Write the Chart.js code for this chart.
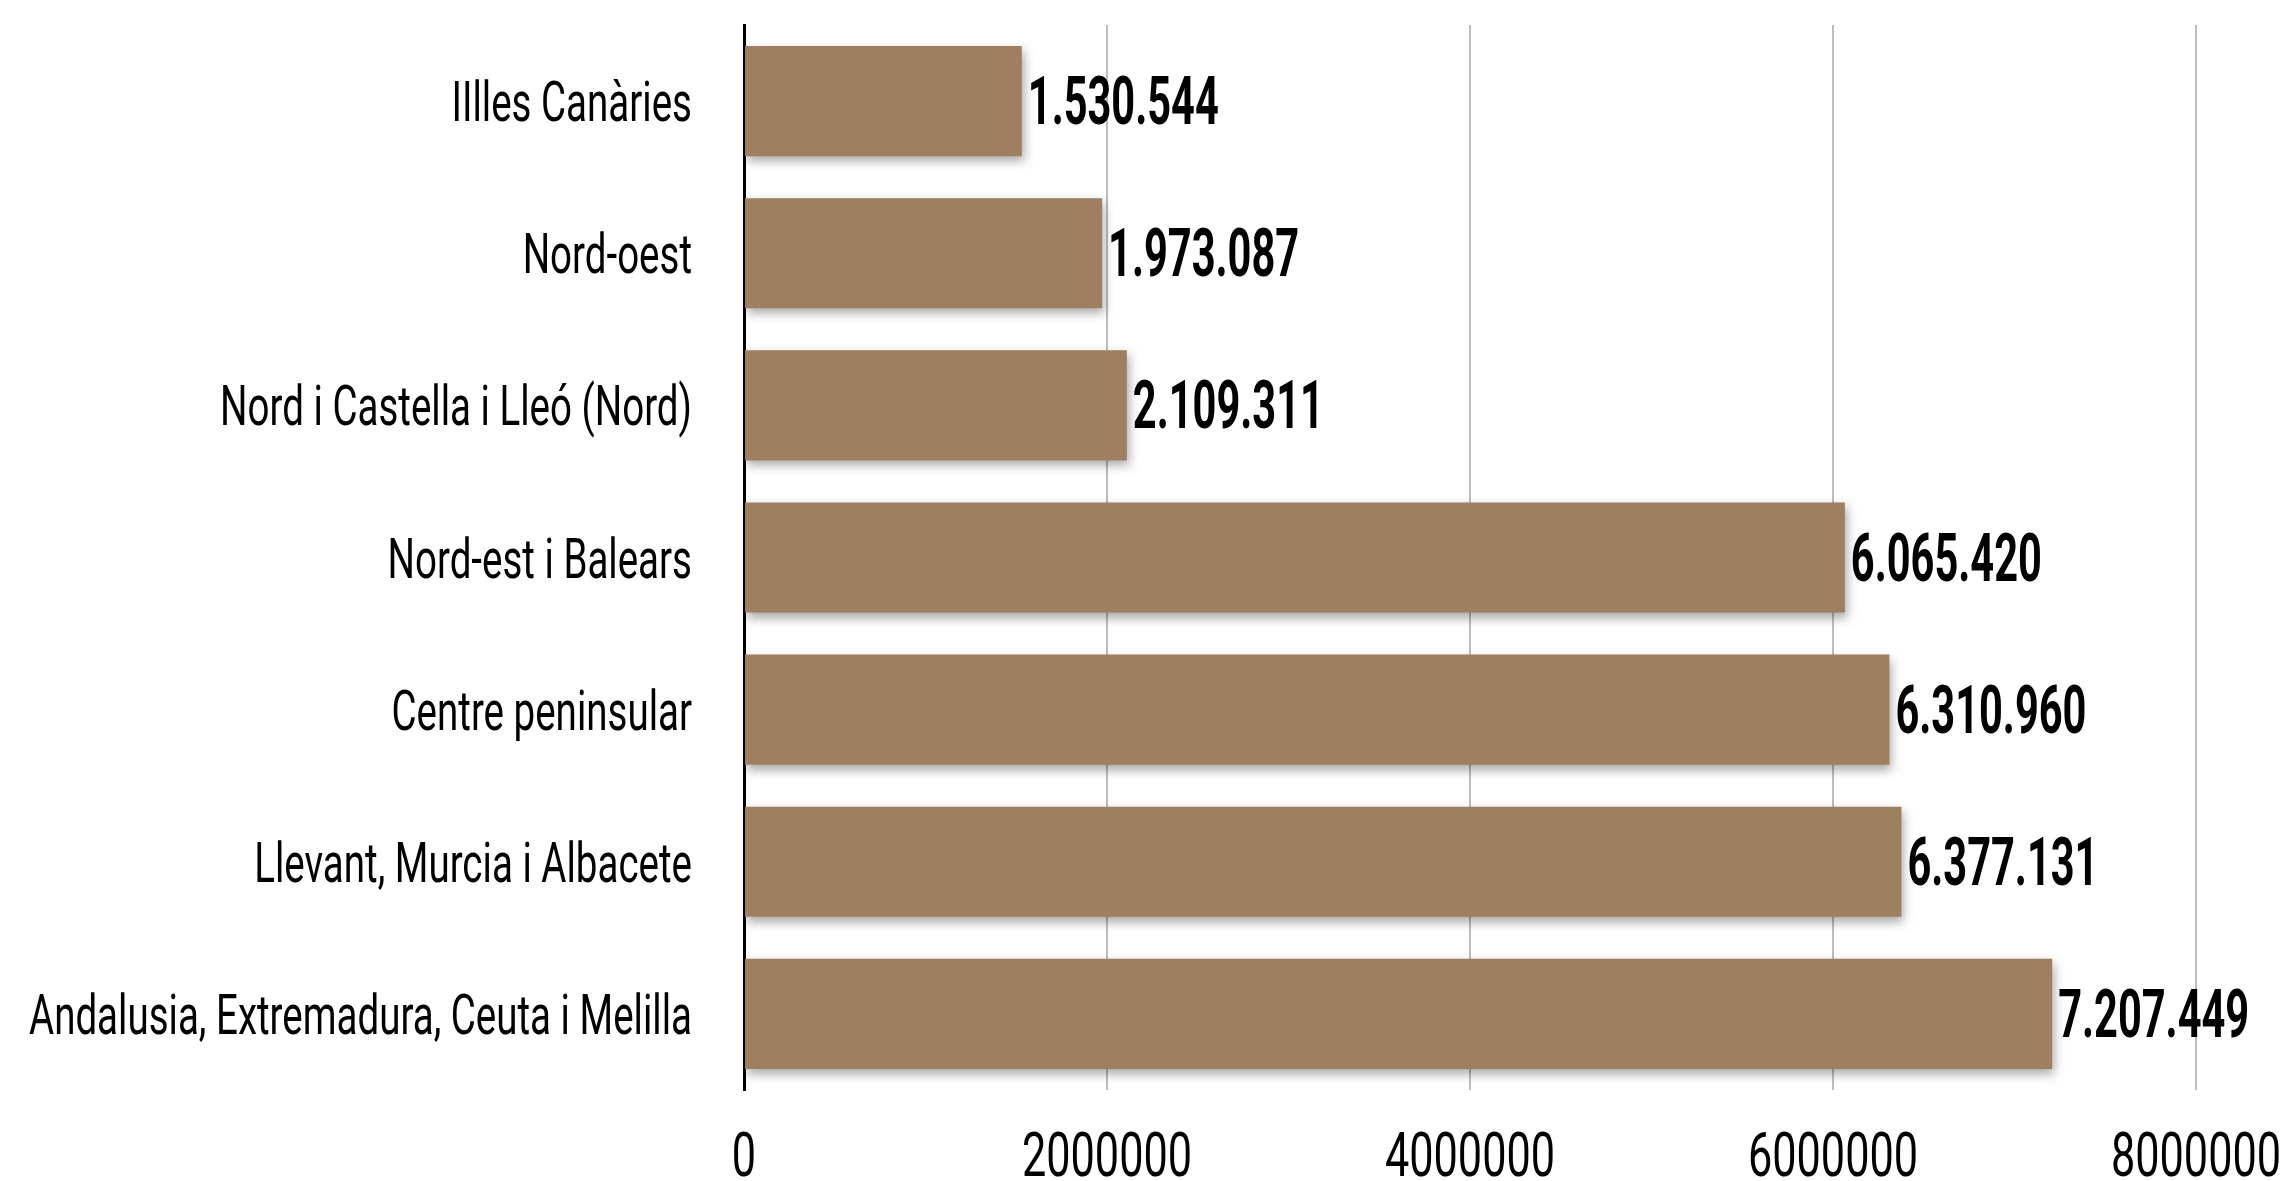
<!DOCTYPE html>
<html>
<head>
<meta charset="utf-8">
<script src="https://cdn.jsdelivr.net/npm/chart.js@4.4.1/dist/chart.umd.min.js"></script>
<style>
  body { margin: 0; background: #fff; }
  canvas { display: block; }
</style>
</head>
<body>
<canvas id="regions" width="2291" height="1181"></canvas>
<script>
var categories = ["IIlles Canàries", "Nord-oest", "Nord i Castella i Lleó (Nord)", "Nord-est i Balears", "Centre peninsular", "Llevant, Murcia i Albacete", "Andalusia, Extremadura, Ceuta i Melilla"];
var values = [1530544, 1973087, 2109311, 6065420, 6310960, 6377131, 7207449];
var xTicks = [0, 2000000, 4000000, 6000000, 8000000];
var barColor = "#9e7f60";

function fmt(v) {
  return String(v).replace(/\B(?=(\d{3})+(?!\d))/g, ".");
}

// draws text squeezed horizontally, to get a condensed look
function squished(ctx, text, x, y, font, sx, align) {
  ctx.save();
  ctx.font = font;
  ctx.fillStyle = "#000";
  ctx.textAlign = align;
  ctx.textBaseline = "alphabetic";
  ctx.translate(x, y);
  ctx.scale(sx, 1);
  ctx.fillText(text, 0, 0);
  ctx.restore();
}

function fitScale(ctx, font, text, target) {
  ctx.save();
  ctx.font = font;
  var w = ctx.measureText(text).width;
  ctx.restore();
  return target / w;
}

var shadowPlugin = {
  id: "barShadow",
  beforeDatasetsDraw: function(chart) {
    var ctx = chart.ctx;
    ctx.save();
    ctx.shadowColor = "rgba(0,0,0,0.35)";
    ctx.shadowBlur = 10;
    ctx.shadowOffsetX = 2;
    ctx.shadowOffsetY = 5;
  },
  afterDatasetsDraw: function(chart) {
    chart.ctx.restore();
  }
};

var textPlugin = {
  id: "labels",
  afterDraw: function(chart) {
    var ctx = chart.ctx;
    var area = chart.chartArea;
    var xs = chart.scales.x;
    var ys = chart.scales.y;

    var catFont = "400 56px Roboto";
    var catSx = fitScale(ctx, catFont, categories[6], 663);
    for (var i = 0; i < categories.length; i++) {
      var y = ys.getPixelForValue(i);
      squished(ctx, categories[i], area.left - 52, y + 20, catFont, catSx, "right");
    }

    var valFont = "700 66px Roboto";
    var valSx = fitScale(ctx, valFont, fmt(values[6]), 191);
    var meta = chart.getDatasetMeta(0);
    for (var j = 0; j < meta.data.length; j++) {
      var bar = meta.data[j];
      squished(ctx, fmt(values[j]), bar.x + 6, bar.y + 23, valFont, valSx, "left");
    }

    var tickFont = "400 62px Roboto";
    var tickSx = fitScale(ctx, tickFont, "2000000", 170);
    for (var k = 0; k < xTicks.length; k++) {
      squished(ctx, String(xTicks[k]), xs.getPixelForValue(xTicks[k]), 1176, tickFont, tickSx, "center");
    }
  }
};

var chart = new Chart(document.getElementById("regions"), {
  type: "bar",
  data: {
    labels: categories,
    datasets: [{
      data: values,
      backgroundColor: barColor,
      borderWidth: 0,
      barPercentage: 0.905,
      categoryPercentage: 0.8
    }]
  },
  options: {
    indexAxis: "y",
    responsive: false,
    animation: false,
    layout: { padding: { left: 744, right: 95, top: 25, bottom: 91 } },
    plugins: {
      legend: { display: false },
      tooltip: { enabled: false },
      title: { display: false }
    },
    scales: {
      x: {
        min: 0,
        max: 8000000,
        ticks: { display: false, stepSize: 2000000 },
        grid: { color: "#bdbdbd", lineWidth: 2, drawTicks: false },
        border: { display: false }
      },
      y: {
        ticks: { display: false },
        grid: { display: false, drawTicks: false },
        border: { display: true, color: "#000", width: 3 }
      }
    }
  },
  plugins: [shadowPlugin, textPlugin]
});
</script>
</body>
</html>
